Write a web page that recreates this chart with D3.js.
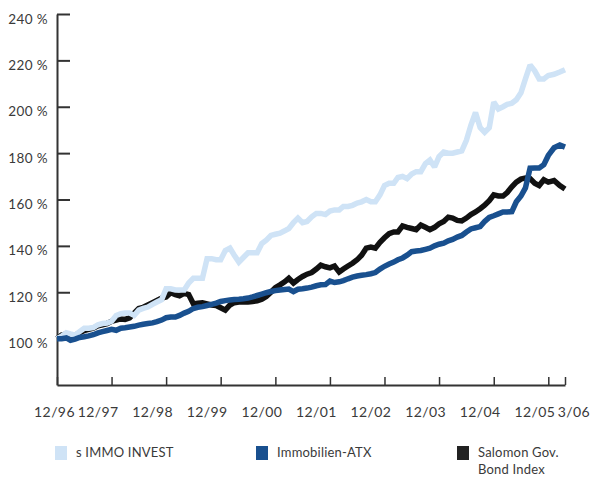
<!DOCTYPE html>
<html><head><meta charset="utf-8">
<script src="https://cdn.jsdelivr.net/npm/d3@7"></script>
<style>
body{margin:0;background:#fff}
text{font-family:Lato,"Liberation Sans",sans-serif;fill:#3a3a3a}
</style>
</head><body>
<svg id="chart" width="593" height="478"></svg>
<script>
// ---- data (monthly, 12/1996 .. 3/2006, index 12/96 = 100 %) ----
const startYear = 1996, startMonth = 11; // December 1996
const immoInvest = [
 100,101,102.5,102,101.5,103,104.5,104.5,104.8,106,106.5,106.7,
 107.5,110,110.8,111,111,110,112.3,113,113.6,114.8,115.8,116.8,
 121.5,121.5,121,121,121,124,126,126,126,134.5,134.5,134,
 134,138,139,136,133,135,137,137,137,141,142.5,144.5,
 145,145.5,146.5,147.5,150,152,150,150.5,152.5,154,154,153.5,
 155,155.5,155.5,157,157,157.5,158.5,159,160,159,159,162,
 166,167,167,169.5,170,169,171,172,172,175.5,177,174,
 178.5,180.5,180,180,180.5,181,185.5,192,197.5,191,189,191,
 202,199,200,201,201.5,203,206,212,218,215.5,212,212,
 213.5,214,215,216];
const immoATX = [
 100,100,100.3,99.3,99.8,100.5,100.8,101.2,101.7,102.5,103,103.5,
 104,103.6,104.5,104.7,105,105.3,105.8,106.2,106.5,106.8,107.3,108,
 109,109.3,109.3,110,111,111.8,113,113.5,113.8,114.3,114.8,115.3,
 116,116.4,116.7,116.9,117,117.2,117.5,118,118.6,119.2,119.8,120.3,
 120.7,121,121.2,121.4,120.3,121.3,121.5,121.8,122.2,122.8,123.2,123.3,
 124.8,124.2,124.5,125,125.8,126.5,127,127.3,127.6,128,128.5,130,
 131.2,132.2,133,134,134.8,136,137.5,137.8,138,138.5,139,140,
 140.7,141.2,142.2,142.8,143.8,144.5,146,147.3,147.8,148.3,150.5,152.3,
 153,153.8,154.6,154.6,154.8,159,161.5,165,173.5,173.6,173.6,175,
 179,182.3,183.5,182.6];
const salomonBond = [
 100,101.5,102,101.5,101.5,102.5,103.5,104,104.5,105.5,106,106.5,
 107.5,108,108.5,108.3,109,111,113,113.5,114.5,115.5,116.5,117.5,
 118,119.8,119,118.5,119.5,119,115,115.3,115.5,115,114.5,114.3,
 113.3,112.3,114.5,115.5,115.8,115.8,115.8,116,116.3,117,118.2,120,
 122,123.2,124.5,126,124,125.5,126.8,127.8,128.5,130,131.7,131,
 130.5,131.3,128.7,130,131.3,132.5,134,136,139,139.5,139,141.5,
 143.5,145.3,146,146,148.6,148,147.5,147,149,148,147,148,
 149.5,150.5,152.4,152,151,150.8,152,153.5,154.6,156,157.5,159.5,
 162,161.5,161.5,163,165.5,167.5,168.8,169.3,169,167,166,168.5,
 167.5,168.2,166,164.5];
const yTickValues = [100,120,140,160,180,200,220,240];
const xTickMonths = [[1996,11],[1997,11],[1998,11],[1999,11],[2000,11],[2001,11],[2002,11],[2003,11],[2004,11],[2005,11],[2006,2]];
const xTickLabels = ["12/96","12/97","12/98","12/99","12/00","12/01","12/02","12/03","12/04","12/05","3/06"];
const seriesNames = ["s IMMO INVEST","Immobilien-ATX","Salomon Gov. Bond Index"];

// ---- styles ----
const colors = {invest:"#cfe3f6", atx:"#19508f", bond:"#111111"};
const axisColor = "#333";

const svg = d3.select("#chart");
const monthDate = (y,m) => new Date(Date.UTC(y,m,1));
const dateOf = i => monthDate(startYear, startMonth + i);

// the original stretches the last quarter slightly: polylinear time scale
const x = d3.scaleUtc()
  .domain([monthDate(1996,11), monthDate(2005,11), monthDate(2006,2)])
  .range([57, 548.3, 565]);
const y = d3.scaleLinear().domain([80,240]).range([385,14]);

// axes
const yAxis = d3.axisRight(y).tickValues(yTickValues).tickSize(13).tickSizeOuter(0).tickFormat("");
const gy = svg.append("g").attr("transform","translate(57,0)").call(yAxis);
gy.select(".domain").attr("stroke",axisColor).attr("stroke-width",2);
gy.selectAll(".tick line").attr("stroke",axisColor).attr("stroke-width",2);

const xTickDates = xTickMonths.map(d => monthDate(d[0], d[1]));
const xAxis = d3.axisTop(x).tickValues(xTickDates).tickSize(8).tickSizeOuter(0).tickFormat("");
const gx = svg.append("g").attr("transform","translate(0,385)").call(xAxis);
gx.select(".domain").attr("stroke",axisColor).attr("stroke-width",2);
gx.selectAll(".tick line").attr("stroke",axisColor).attr("stroke-width",1.5);

// y labels
svg.append("g").selectAll("text").data(yTickValues).join("text")
  .attr("x",48).attr("y",d => y(d)+9.5)
  .attr("text-anchor","end").attr("font-size",13.5).attr("letter-spacing",0.4)
  .text(d => d + " %");

// x labels
svg.append("g").selectAll("text").data(xTickDates).join("text")
  .attr("x",(d,i) => x(d) + (i===0 ? -2.5 : i===xTickDates.length-1 ? 9 : -13.5))
  .attr("y",417)
  .attr("text-anchor","middle").attr("font-size",14).attr("letter-spacing",0.4)
  .text((d,i) => xTickLabels[i]);

// lines
const line = d3.line().x((d,i) => x(dateOf(i))).y(d => y(d));
const drawLine = (vals,color) => svg.append("path").datum(vals)
  .attr("fill","none").attr("stroke",color).attr("stroke-width",5.5)
  .attr("stroke-linejoin","miter").attr("stroke-miterlimit",2)
  .attr("d",line);
drawLine(salomonBond, colors.bond);
drawLine(immoInvest, colors.invest);
drawLine(immoATX, colors.atx);

// legend
const legendItems = [
  {name:seriesNames[0], color:colors.invest, x:55},
  {name:seriesNames[1], color:colors.atx, x:256},
  {name:seriesNames[2], color:"#222", x:457}
];
const lg = svg.append("g");
legendItems.forEach((it,i) => {
  lg.append("rect").attr("x",it.x).attr("y",446).attr("width",12).attr("height",14).attr("fill",it.color);
  const t = lg.append("text").attr("x",it.x+21).attr("y",457).attr("font-size",13).attr("letter-spacing",0.2);
  if (i===2) {
    t.append("tspan").attr("x",it.x+21).text("Salomon Gov.");
    t.append("tspan").attr("x",it.x+21).attr("dy",17).text("Bond Index");
  } else t.text(it.name);
});
</script>
</body></html>
